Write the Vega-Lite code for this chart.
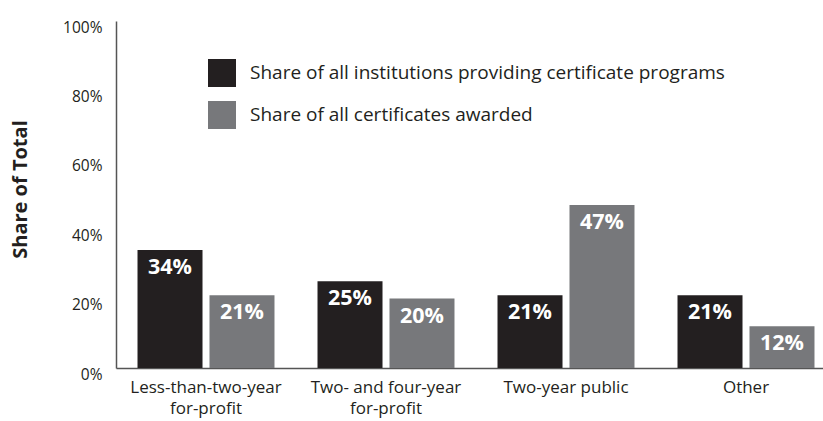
{
  "$schema": "https://vega.github.io/schema/vega-lite/v6.json",
  "width": 707,
  "height": 347,
  "autosize": "none",
  "padding": {"left": 116, "top": 21, "right": 0, "bottom": 53},
  "background": "white",
  "config": {
    "font": "Open Sans",
    "view": {"stroke": null}
  },
  "data": {
    "values": [
      {"category": "Less-than-two-year|for-profit", "series": "Share of all institutions providing certificate programs", "value": 34, "label": "34%"},
      {"category": "Less-than-two-year|for-profit", "series": "Share of all certificates awarded", "value": 21, "label": "21%"},
      {"category": "Two- and four-year|for-profit", "series": "Share of all institutions providing certificate programs", "value": 25, "label": "25%"},
      {"category": "Two- and four-year|for-profit", "series": "Share of all certificates awarded", "value": 20, "label": "20%"},
      {"category": "Two-year public", "series": "Share of all institutions providing certificate programs", "value": 21, "label": "21%"},
      {"category": "Two-year public", "series": "Share of all certificates awarded", "value": 47, "label": "47%"},
      {"category": "Other", "series": "Share of all institutions providing certificate programs", "value": 21, "label": "21%"},
      {"category": "Other", "series": "Share of all certificates awarded", "value": 12, "label": "12%"}
    ]
  },
  "encoding": {
    "x": {
      "field": "category",
      "type": "nominal",
      "sort": null,
      "scale": {"range": [0, 720], "paddingInner": 0.239, "paddingOuter": 0.1195},
      "axis": {
        "title": null,
        "labelAngle": 0,
        "labelExpr": "split(datum.label, '|')",
        "labelFontSize": 17,
        "labelColor": "#231f20",
        "labelPadding": 11,
        "labelLineHeight": 21,
        "ticks": false,
        "domainColor": "#555555",
        "domainWidth": 1.5
      }
    },
    "xOffset": {
      "field": "series",
      "type": "nominal",
      "sort": ["Share of all institutions providing certificate programs", "Share of all certificates awarded"],
      "scale": {"paddingInner": 0.097, "paddingOuter": 0}
    },
    "y": {
      "field": "value",
      "type": "quantitative",
      "scale": {"domain": [0, 100]},
      "axis": {
        "values": [0, 20, 40, 60, 80, 100],
        "labelExpr": "datum.value + '%'",
        "labelFontSize": 15.5,
        "labelColor": "#231f20",
        "labelPadding": 14,
        "labelOffset": 6,
        "ticks": false,
        "grid": false,
        "domainColor": "#555555",
        "domainWidth": 1.5,
        "title": "Share of Total",
        "titleFontSize": 20,
        "titleFontWeight": "bold",
        "titleColor": "#231f20",
        "titleAngle": -90,
        "titleX": -96,
        "titleY": 168,
        "titleAlign": "center",
        "titleBaseline": "middle"
      }
    }
  },
  "layer": [
    {
      "mark": {"type": "bar"},
      "encoding": {
        "color": {
          "field": "series",
          "type": "nominal",
          "sort": ["Share of all institutions providing certificate programs", "Share of all certificates awarded"],
          "scale": {"range": ["#231f20", "#77787b"]},
          "legend": {
            "title": null,
            "orient": "none",
            "legendX": 92,
            "legendY": 38,
            "symbolType": "square",
            "symbolSize": 784,
            "symbolStrokeWidth": 0,
            "symbolOpacity": 1,
            "labelFontSize": 19,
            "labelColor": "#231f20",
            "labelOffset": 14,
            "rowPadding": 14,
            "labelLimit": 600
          }
        }
      }
    },
    {
      "mark": {"type": "text", "baseline": "alphabetic", "dy": 24, "fontSize": 21.5, "fontWeight": "bold", "color": "white"},
      "encoding": {
        "text": {"field": "label", "type": "nominal"}
      }
    }
  ]
}
